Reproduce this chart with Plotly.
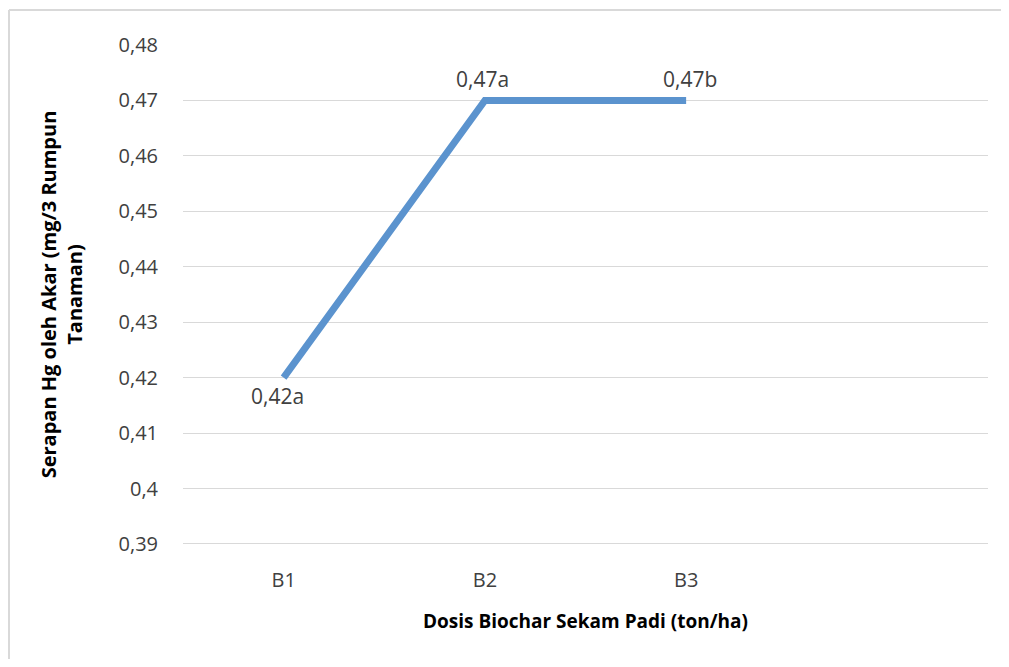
import plotly.graph_objects as go

categories = ["B1", "B2", "B3"]
values = [0.42, 0.47, 0.47]
labels = ["0,42a", "0,47a", "0,47b"]
label_xshift = [-6, -2, 4]
label_yshift = [-18, 21, 21]
y_ticks = [0.39, 0.40, 0.41, 0.42, 0.43, 0.44, 0.45, 0.46, 0.47, 0.48]
y_ticktext = ["0,39", "0,4", "0,41", "0,42", "0,43", "0,44", "0,45", "0,46", "0,47", "0,48"]

FONT = "Open Sans"
W, H = 1001, 651
L, R, T, B = 175, 21, 37, 115
pw, ph = W - L - R, H - T - B

fig = go.Figure()
fig.add_trace(go.Scatter(
    x=categories, y=values, mode="lines",
    line=dict(color="#5B93CE", width=7),
    showlegend=False, hoverinfo="skip",
))

for c, v, t, dx, dy in zip(categories, values, labels, label_xshift, label_yshift):
    fig.add_annotation(x=c, y=v, text=t, showarrow=False, xshift=dx, yshift=dy,
                       font=dict(family=FONT, size=21, color="#404040"))

bx0 = (1 - L) / pw
by1 = 1 + (T - 2) / ph
fig.update_layout(
    width=W, height=H,
    margin=dict(l=L, r=R, t=T, b=B),
    paper_bgcolor="white", plot_bgcolor="white",
    separators=",.",
    font=dict(family=FONT, color="#404040"),
    xaxis=dict(
        type="category", range=[-0.5, 3.5],
        showgrid=False, zeroline=False, showline=False,
        ticks="", ticklabelstandoff=22,
        tickfont=dict(family=FONT, size=20, color="#404040"),
        title=dict(text="<b>Dosis Biochar Sekam Padi (ton/ha)</b>",
                   font=dict(family=FONT, size=19, color="#000000"), standoff=22),
    ),
    yaxis=dict(
        range=[0.39, 0.48], tickvals=y_ticks, ticktext=y_ticktext,
        showgrid=True, gridcolor="#D9D9D9", gridwidth=1,
        zeroline=False, showline=False, ticks="", ticklabelstandoff=24,
        tickfont=dict(family=FONT, size=20, color="#404040"),
        title=dict(text="<b>Serapan Hg oleh Akar (mg/3 Rumpun<br>Tanaman)</b>",
                   font=dict(family=FONT, size=20, color="#000000"), standoff=30),
    ),
    shapes=[
        dict(type="line", xref="paper", yref="paper", x0=bx0, x1=bx0, y0=-B / ph, y1=by1,
             line=dict(color="#D9D9D9", width=2), layer="below"),
        dict(type="line", xref="paper", yref="paper", x0=bx0, x1=1 + R / pw, y0=by1, y1=by1,
             line=dict(color="#D9D9D9", width=2), layer="below"),
        dict(type="line", xref="paper", yref="y", x0=0, x1=1, y0=0.39, y1=0.39,
             line=dict(color="#D9D9D9", width=2)),
    ],
)

fig.write_html("out.html")
